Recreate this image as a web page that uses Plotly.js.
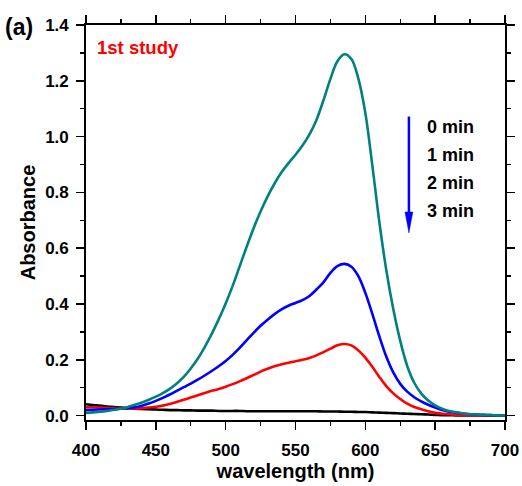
<!DOCTYPE html>
<html>
<head>
<meta charset="utf-8">
<script src="https://cdn.plot.ly/plotly-3.0.1.min.js"></script>
<style>html,body{margin:0;padding:0;background:#fff;}#chart{width:522px;height:486px;}</style>
</head>
<body>
<div id="chart"></div>
<script>
// wavelength grid (nm)
const wavelength = [400,405,410,415,420,425,430,435,440,445,450,455,460,465,470,475,480,485,490,495,
  500,505,510,515,520,525,530,535,540,545,550,555,560,565,570,575,580,585,590,595,
  600,605,610,615,620,625,630,635,640,645,650,655,660,665,670,675,680,685,690,695,700];

const abs0min = [0.010,0.012,0.014,0.017,0.021,0.025,0.031,0.039,0.047,0.057,0.068,0.081,0.096,0.115,0.139,0.169,0.204,0.246,0.293,0.345,
  0.402,0.465,0.535,0.605,0.672,0.732,0.785,0.832,0.872,0.905,0.935,0.968,1.008,1.060,1.130,1.207,1.270,1.295,1.278,1.208,
  1.085,0.897,0.695,0.522,0.382,0.268,0.178,0.118,0.080,0.054,0.037,0.025,0.017,0.012,0.008,0.005,0.004,0.003,0.002,0.001,0.001];

const abs1min = [0.020,0.021,0.022,0.023,0.024,0.025,0.027,0.030,0.036,0.044,0.053,0.064,0.076,0.089,0.102,0.115,0.129,0.144,0.160,0.177,
  0.196,0.218,0.243,0.270,0.297,0.322,0.344,0.364,0.381,0.394,0.404,0.414,0.429,0.452,0.478,0.512,0.536,0.544,0.534,0.500,
  0.440,0.365,0.285,0.212,0.155,0.114,0.086,0.066,0.051,0.039,0.029,0.020,0.014,0.011,0.008,0.005,0.004,0.003,0.002,0.001,0.001];

const abs2min = [0.030,0.030,0.029,0.028,0.027,0.027,0.026,0.026,0.027,0.029,0.032,0.036,0.042,0.049,0.057,0.065,0.073,0.081,0.089,0.096,
  0.104,0.113,0.123,0.134,0.146,0.158,0.168,0.177,0.184,0.190,0.195,0.200,0.207,0.216,0.228,0.240,0.252,0.257,0.252,0.234,
  0.208,0.175,0.139,0.106,0.080,0.060,0.043,0.031,0.023,0.016,0.010,0.007,0.005,0.003,0.002,0.002,0.001,0.001,0.001,0.001,0.001];

const abs3min = [0.041,0.038,0.036,0.033,0.031,0.029,0.027,0.025,0.024,0.023,0.022,0.021,0.020,0.020,0.019,0.019,0.018,0.018,0.018,0.017,
  0.017,0.017,0.017,0.016,0.016,0.016,0.016,0.016,0.016,0.016,0.016,0.016,0.016,0.016,0.015,0.015,0.015,0.014,0.014,0.013,
  0.013,0.012,0.011,0.010,0.009,0.008,0.007,0.006,0.005,0.004,0.003,0.002,0.002,0.001,0.001,0.001,0.001,0.000,0.000,0.000,0.000];

const seriesNames = ['3 min','2 min','1 min','0 min'];
const seriesColors = ['#000000','#ff0000','#0000ff','#008080'];
const legendLabels = ['0 min','1 min','2 min','3 min'];
const legendY = [1.035,0.934,0.834,0.734];

const FONT = 'Liberation Sans, Arial, Helvetica, sans-serif';
const seriesData = [abs3min, abs2min, abs1min, abs0min];

const traces = seriesData.map((y,i)=>({
  x: wavelength, y: y, type:'scatter', mode:'lines', name: seriesNames[i],
  line:{color: seriesColors[i], width:2.6, shape:'spline', smoothing:1},
  hoverinfo:'skip'
}));

const annotations = legendLabels.map((t,i)=>({
  x: 643, y: legendY[i], xref:'x', yref:'y', text:'<b>'+t+'</b>', showarrow:false,
  xanchor:'left', yanchor:'middle', font:{family:FONT, size:18, color:'#000'}
}));
annotations.push({x:0.022, y:0.942, xref:'paper', yref:'paper', text:'<b>1st study</b>', showarrow:false,
  xanchor:'left', yanchor:'middle', font:{family:FONT, size:18.5, color:'#ff0000'}});
annotations.push({x:-0.198, y:0.995, xref:'paper', yref:'paper', text:'<b>(a)</b>', showarrow:false,
  xanchor:'left', yanchor:'middle', font:{family:FONT, size:23, color:'#000'}});

const shapes = [
  {type:'line', xref:'x', yref:'y', x0:631.2, x1:631.2, y0:1.072, y1:0.72, line:{color:'#0000ff', width:2.5}},
  {type:'path', xref:'x', yref:'y', path:'M 628.4 0.73 L 634.0 0.73 L 631.2 0.655 Z', fillcolor:'#0000ff', line:{color:'#0000ff', width:0.5}}
];

const axisCommon = {
  showline:true, linecolor:'#000', linewidth:1.8, mirror:'allticks',
  ticks:'outside', ticklen:8, tickwidth:1.6, tickcolor:'#000',
  showgrid:false, zeroline:false,
  tickfont:{family:FONT, size:17, color:'#000', weight:'bold'},
};

const layout = {
  width:522, height:486,
  margin:{l:86, r:17, t:25, b:66},
  paper_bgcolor:'#fff', plot_bgcolor:'#fff',
  showlegend:false,
  xaxis: Object.assign({}, axisCommon, {
    range:[400,700], dtick:50, tick0:400, ticklabelstandoff:6,
    minor:{dtick:25, ticks:'outside', ticklen:4, tickwidth:1.4, tickcolor:'#000'},
    title:{text:'<b>wavelength (nm)</b>', font:{family:FONT, size:20, color:'#000'}, standoff:4}
  }),
  yaxis: Object.assign({}, axisCommon, {
    range:[-0.0155,1.4], dtick:0.2, tick0:0, tickformat:'.1f', ticklabelstandoff:4,
    minor:{dtick:0.1, ticks:'outside', ticklen:4, tickwidth:1.4, tickcolor:'#000'},
    title:{text:'<b>Absorbance</b>', font:{family:FONT, size:20, color:'#000'}, standoff:4}
  }),
  annotations: annotations,
  shapes: shapes
};

Plotly.newPlot('chart', traces, layout, {staticPlot:true, displayModeBar:false});
</script>
</body>
</html>
